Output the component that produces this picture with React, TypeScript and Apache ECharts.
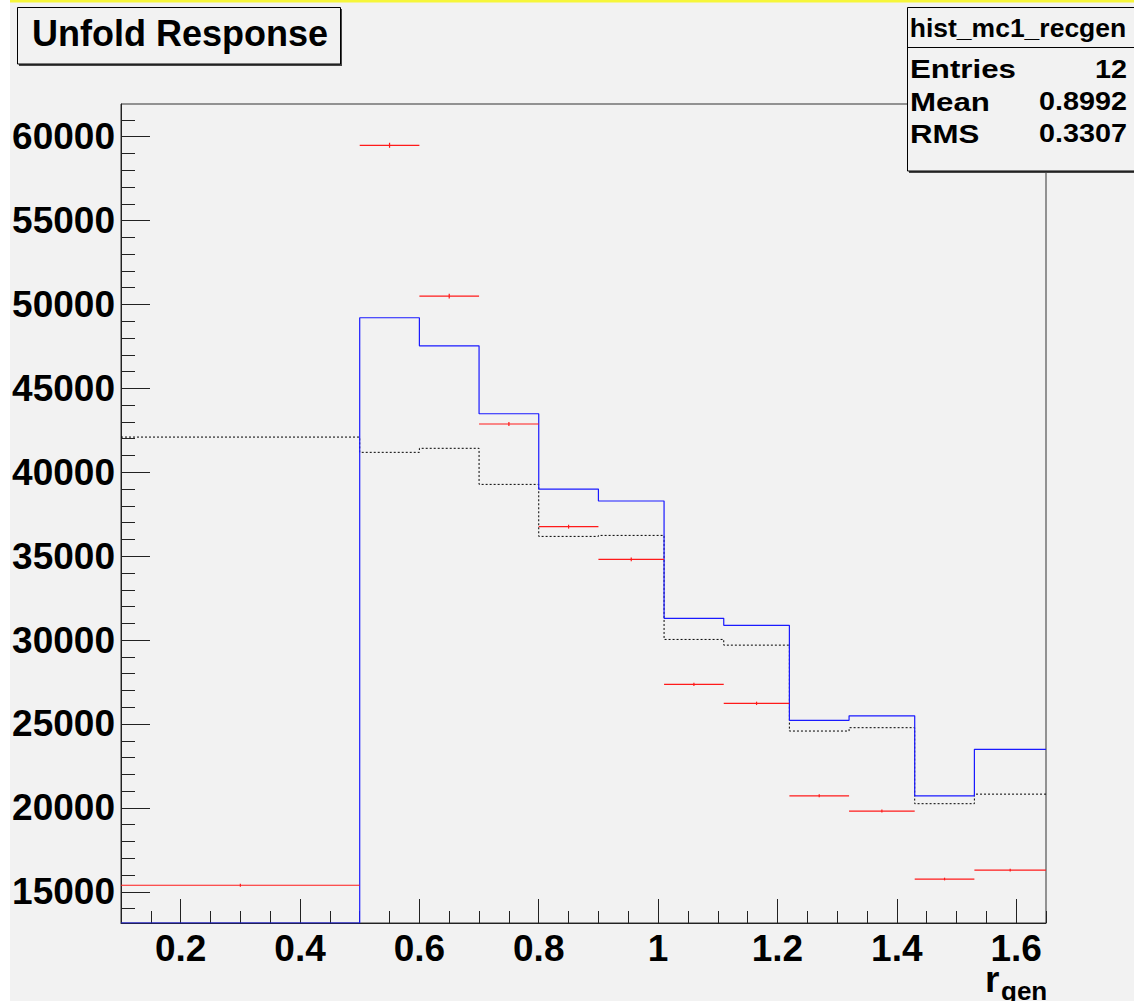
import React, { useEffect, useRef } from "react";
import * as echarts from "echarts";

// Histogram binning along r_gen (variable-width bins)
const binEdges = [0.1, 0.5, 0.6, 0.7, 0.8, 0.9, 1.01, 1.11, 1.22, 1.32, 1.43, 1.53, 1.65];

// Reconstructed-vs-generated response (blue step line)
const recoGen = [12500, 49210, 47540, 43490, 39000, 38290, 31300, 30880, 25220, 25490, 20720, 23490];
// Generator-level truth (black dotted step line)
const truthGen = [42100, 41190, 41430, 39280, 36180, 36240, 30040, 29700, 24580, 24780, 20250, 20820];
// Unfolded result with statistical errors (red points)
const unfolded = [15390, 59490, 50500, 42880, 36760, 34810, 27360, 26230, 20720, 19810, 15760, 16290];
const unfoldedErr = [90, 150, 135, 125, 115, 110, 100, 100, 90, 90, 80, 80];

// Axis ticks
const xMajorTicks = [0.2, 0.4, 0.6, 0.8, 1, 1.2, 1.4, 1.6];
const yMajorTicks = [15000, 20000, 25000, 30000, 35000, 40000, 45000, 50000, 55000, 60000];

// Stats box entries
const statsTitle = "hist_mc1_recgen";
const statsLabels = ["Entries", "Mean", "RMS"];
const statsValues = ["12", "0.8992", "0.3307"];

const X_MIN = 0.1;
const X_MAX = 1.65;
const Y_MIN = 13140;
const Y_MAX = 61950;

const FONT = "'Liberation Sans', Arial, Helvetica, sans-serif";

function minorTicks(from: number, to: number, step: number, major: number[]) {
  const out: number[] = [];
  for (let v = from; v <= to + step / 10; v += step) {
    const r = Math.round(v * 1000) / 1000;
    if (!major.some((m) => Math.abs(m - r) < step / 10)) out.push(r);
  }
  return out;
}

function stepData(values: number[]) {
  return binEdges.map((e, i) => [e, Math.max(values[Math.min(i, values.length - 1)], Y_MIN)]);
}

export default function App() {
  const ref = useRef<HTMLDivElement>(null);

  useEffect(() => {
    if (!ref.current) return;
    const chart = echarts.init(ref.current, null, { renderer: "svg" });

    const xMinor = minorTicks(0.15, 1.65, 0.05, xMajorTicks);
    const yMinor = minorTicks(14000, 61000, 1000, yMajorTicks);

    const redData = unfolded.map((v, i) => [binEdges[i], binEdges[i + 1], v, unfoldedErr[i]]);

    const axisColor = "#222";

    const statsRowsY = [69.5, 102, 134];

    const option: any = {
      animation: false,
      backgroundColor: "#f2f2f2",
      grid: {
        left: 121,
        right: 88,
        top: 104,
        bottom: 78,
        containLabel: false,
        show: true,
        borderColor: "#333",
        borderWidth: 1,
        backgroundColor: "transparent",
      },
      xAxis: [
        {
          type: "value",
          min: X_MIN,
          max: X_MAX,
          position: "bottom",
          axisLine: { show: true, lineStyle: { color: axisColor, width: 1 } },
          axisTick: {
            show: true,
            inside: true,
            length: 24,
            customValues: xMajorTicks,
            lineStyle: { color: axisColor, width: 1 },
          },
          axisLabel: {
            customValues: xMajorTicks,
            margin: 7,
            fontSize: 37,
            fontWeight: "bold",
            fontFamily: FONT,
            color: "#000",
            formatter: (v: number) => String(v),
          },
          splitLine: { show: false },
        },
        {
          type: "value",
          min: X_MIN,
          max: X_MAX,
          position: "bottom",
          axisLine: { show: false },
          axisTick: {
            show: true,
            inside: true,
            length: 12,
            customValues: xMinor,
            lineStyle: { color: axisColor, width: 1 },
          },
          axisLabel: { show: false },
          splitLine: { show: false },
        },
      ],
      yAxis: [
        {
          type: "value",
          min: Y_MIN,
          max: Y_MAX,
          position: "left",
          axisLine: { show: true, lineStyle: { color: axisColor, width: 1 } },
          axisTick: {
            show: true,
            inside: true,
            length: 29,
            customValues: yMajorTicks,
            lineStyle: { color: axisColor, width: 1 },
          },
          axisLabel: {
            customValues: yMajorTicks,
            margin: 6,
            fontSize: 37,
            fontWeight: "bold",
            fontFamily: FONT,
            color: "#000",
            formatter: (v: number) => String(v),
          },
          splitLine: { show: false },
        },
        {
          type: "value",
          min: Y_MIN,
          max: Y_MAX,
          position: "left",
          axisLine: { show: false },
          axisTick: {
            show: true,
            inside: true,
            length: 14,
            customValues: yMinor,
            lineStyle: { color: axisColor, width: 1 },
          },
          axisLabel: { show: false },
          splitLine: { show: false },
        },
      ],
      series: [
        {
          name: "truth",
          type: "line",
          step: "end",
          xAxisIndex: 0,
          yAxisIndex: 0,
          symbol: "none",
          clip: true,
          data: stepData(truthGen),
          lineStyle: { color: "#000", width: 1, type: [2, 2] },
          z: 3,
        },
        {
          name: "recgen",
          type: "line",
          step: "end",
          xAxisIndex: 0,
          yAxisIndex: 0,
          symbol: "none",
          clip: true,
          data: stepData(recoGen),
          lineStyle: { color: "#1a1aff", width: 1.2 },
          z: 4,
        },
        {
          name: "unfolded",
          type: "custom",
          xAxisIndex: 0,
          yAxisIndex: 0,
          clip: true,
          encode: { x: [0, 1], y: 2 },
          data: redData,
          z: 5,
          renderItem: (params: any, api: any) => {
            const lo = api.value(0);
            const hi = api.value(1);
            const v = api.value(2);
            const e = api.value(3);
            const mid = (lo + hi) / 2;
            const a = api.coord([lo, v]);
            const b = api.coord([hi, v]);
            const c = api.coord([mid, v + e]);
            const d = api.coord([mid, v - e]);
            return {
              type: "group",
              children: [
                {
                  type: "line",
                  shape: { x1: a[0], y1: a[1], x2: b[0], y2: b[1] },
                  style: { stroke: "#ff1a1a", lineWidth: 1.2 },
                },
                {
                  type: "line",
                  shape: { x1: c[0], y1: c[1], x2: d[0], y2: d[1] },
                  style: { stroke: "#ff1a1a", lineWidth: 1.2 },
                },
              ],
            };
          },
        },
      ],
      graphic: {
        elements: [
          // window edges
          { type: "rect", z: 50, shape: { x: 0, y: 0, width: 10, height: 1001 }, style: { fill: "#ffffff" } },
          { type: "rect", z: 50, shape: { x: 10, y: 0, width: 1124, height: 2.5 }, style: { fill: "#f6f63a" } },
          // title box with shadow
          { type: "rect", z: 50, shape: { x: 19, y: 9, width: 323, height: 57 }, style: { fill: "#444" } },
          {
            type: "rect",
            z: 51,
            shape: { x: 17.5, y: 7.5, width: 323, height: 56.5 },
            style: { fill: "#f2f2f2", stroke: "#000", lineWidth: 1 },
          },
          {
            type: "text",
            z: 52,
            x: 32,
            y: 33.5,
            style: {
              text: "Unfold Response",
              font: `bold 36px ${FONT}`,
              fill: "#000",
              align: "left",
              verticalAlign: "middle",
            },
          },
          // stats box with shadow
          { type: "rect", z: 50, shape: { x: 909, y: 9, width: 240, height: 164 }, style: { fill: "#444" } },
          {
            type: "rect",
            z: 51,
            shape: { x: 907.5, y: 7.5, width: 240, height: 163.5 },
            style: { fill: "#f2f2f2", stroke: "#000", lineWidth: 1 },
          },
          {
            type: "line",
            z: 52,
            shape: { x1: 907.5, y1: 47.5, x2: 1134, y2: 47.5 },
            style: { stroke: "#000", lineWidth: 1 },
          },
          {
            type: "text",
            z: 52,
            x: 1018,
            y: 28,
            scaleX: 1.06,
            style: {
              text: statsTitle,
              font: `bold 25px ${FONT}`,
              fill: "#000",
              align: "center",
              verticalAlign: "middle",
            },
          },
          ...statsLabels.map((t, i) => ({
            type: "text",
            z: 52,
            x: 910,
            y: statsRowsY[i],
            scaleX: 1.25,
            style: {
              text: t,
              font: `bold 25px ${FONT}`,
              fill: "#000",
              align: "left",
              verticalAlign: "middle",
            },
          })),
          ...statsValues.map((t, i) => ({
            type: "text",
            z: 52,
            x: 1127,
            y: statsRowsY[i],
            scaleX: 1.15,
            style: {
              text: t,
              font: `bold 25px ${FONT}`,
              fill: "#000",
              align: "right",
              verticalAlign: "middle",
            },
          })),
          // axis title r_gen
          {
            type: "text",
            z: 52,
            x: 985,
            y: 979,
            style: {
              text: "r",
              font: `bold 37px ${FONT}`,
              fill: "#000",
              align: "left",
              verticalAlign: "middle",
            },
          },
          {
            type: "text",
            z: 52,
            x: 1001,
            y: 991,
            style: {
              text: "gen",
              font: `bold 26px ${FONT}`,
              fill: "#000",
              align: "left",
              verticalAlign: "middle",
            },
          },
        ],
      },
    };

    chart.setOption(option);
    return () => chart.dispose();
  }, []);

  return (
    <div
      ref={ref}
      style={{ position: "fixed", left: 0, top: 0, width: 1134, height: 1001 }}
    />
  );
}
